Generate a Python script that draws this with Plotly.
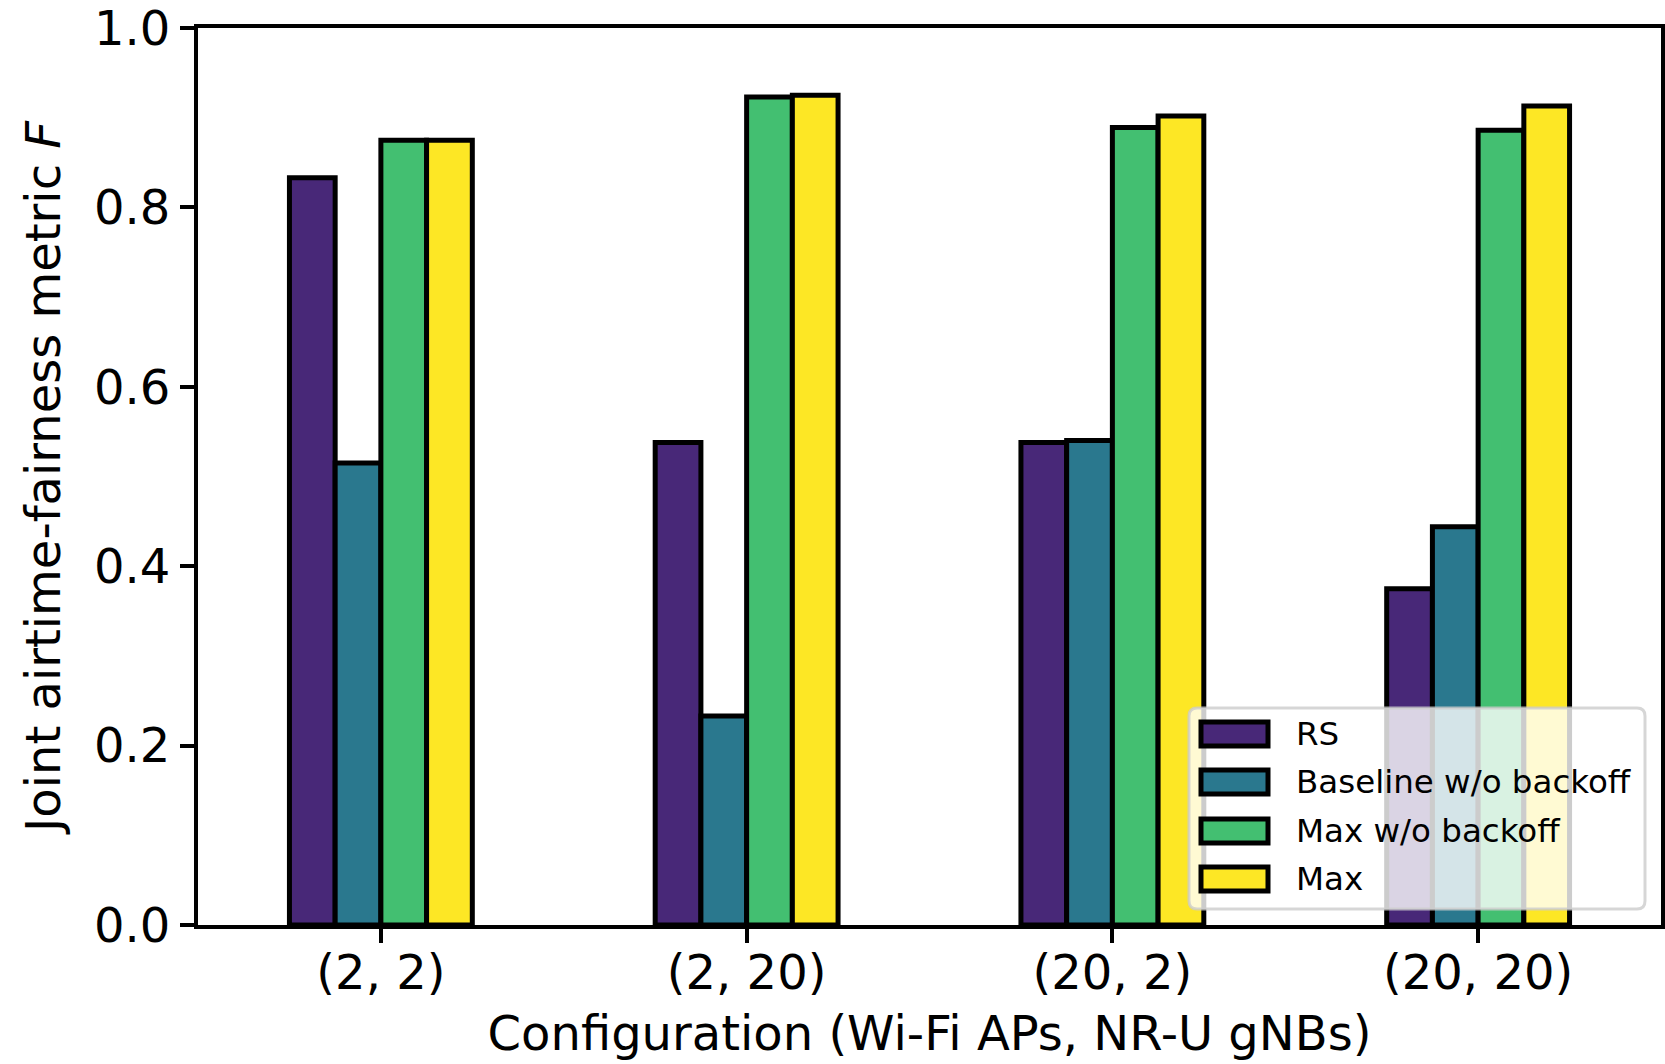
import plotly.graph_objects as go

# ---- data ----
configs = ["(2, 2)", "(2, 20)", "(20, 2)", "(20, 20)"]
series_names = ["RS", "Baseline w/o backoff", "Max w/o backoff", "Max"]
rs_vals = [0.833, 0.538, 0.538, 0.375]
baseline_vals = [0.515, 0.233, 0.540, 0.444]
max_wo_vals = [0.875, 0.923, 0.889, 0.886]
max_vals = [0.875, 0.925, 0.902, 0.913]
y_ticks = [0.0, 0.2, 0.4, 0.6, 0.8, 1.0]

series_values = [rs_vals, baseline_vals, max_wo_vals, max_vals]
colors = ["#482878", "#2a788e", "#43bf71", "#fde725"]

FONT = "DejaVu Sans"
W, H = 1665, 1064
ML, MR, MT, MB = 198, 4, 28, 139
PW = W - ML - MR
PH = H - MT - MB

fig = go.Figure()
for name, vals, col in zip(series_names, series_values, colors):
    fig.add_trace(go.Bar(
        x=configs, y=vals, name=name,
        marker=dict(color=col, line=dict(color="black", width=5)),
        showlegend=False,
    ))

# ---- custom legend (matplotlib-like) ----
def px_to_paper_x(px):
    return (px - ML) / PW

def px_to_paper_y(py):
    return (H - MB - py) / PH

lx0, lx1 = px_to_paper_x(1189), px_to_paper_x(1645)
ly0, ly1 = px_to_paper_y(909), px_to_paper_y(708)
rx, ry = 8 / PW, 8 / PH
path = (f"M {lx0+rx},{ly0} L {lx1-rx},{ly0} Q {lx1},{ly0} {lx1},{ly0+ry} "
        f"L {lx1},{ly1-ry} Q {lx1},{ly1} {lx1-rx},{ly1} L {lx0+rx},{ly1} "
        f"Q {lx0},{ly1} {lx0},{ly1-ry} L {lx0},{ly0+ry} Q {lx0},{ly0} {lx0+rx},{ly0} Z")
shapes = [dict(type="path", xref="paper", yref="paper", path=path,
               fillcolor="rgba(255,255,255,0.8)",
               line=dict(color="rgba(204,204,204,0.8)", width=3), layer="above")]
annotations = []
row_centers = [734, 782, 831, 879]
for name, col, cy in zip(series_names, colors, row_centers):
    shapes.append(dict(type="rect", xref="paper", yref="paper",
                       x0=px_to_paper_x(1201), x1=px_to_paper_x(1268),
                       y0=px_to_paper_y(cy + 12), y1=px_to_paper_y(cy - 12),
                       fillcolor=col, line=dict(color="black", width=5), layer="above"))
    annotations.append(dict(xref="paper", yref="paper", x=px_to_paper_x(1294),
                            y=px_to_paper_y(cy), text=name, showarrow=False,
                            xanchor="left", yanchor="middle",
                            font=dict(family=FONT, size=32.5, color="black")))

fig.update_layout(
    width=W, height=H,
    margin=dict(l=ML, r=MR, t=MT, b=MB, pad=0, autoexpand=False),
    paper_bgcolor="white", plot_bgcolor="white",
    barmode="group", bargap=0.5, bargroupgap=0,
    font=dict(family=FONT, size=48, color="black"),
    shapes=shapes, annotations=annotations,
    showlegend=False,
)
fig.update_xaxes(
    type="category", range=[-0.5, 3.5], automargin=False,
    showline=True, linecolor="black", linewidth=4, mirror=True,
    ticks="outside", ticklen=14, tickwidth=4, tickcolor="black",
    showgrid=False, zeroline=False,
    tickfont=dict(family=FONT, size=48),
    ticklabelstandoff=-12,
    title=dict(text="Configuration (Wi-Fi APs, NR-U gNBs)",
               font=dict(family=FONT, size=48), standoff=19),
)
fig.update_yaxes(
    range=[0, 1], tickvals=y_ticks, tickformat=".1f", automargin=False,
    showline=True, linecolor="black", linewidth=4, mirror=True,
    ticks="outside", ticklen=14, tickwidth=4, tickcolor="black",
    showgrid=False, zeroline=False,
    tickfont=dict(family=FONT, size=48),
    ticklabeloverflow="allow",
    title=dict(text="Joint airtime-fairness metric <i>F</i>",
               font=dict(family=FONT, size=48), standoff=19),
)

fig.write_html("out.html")
